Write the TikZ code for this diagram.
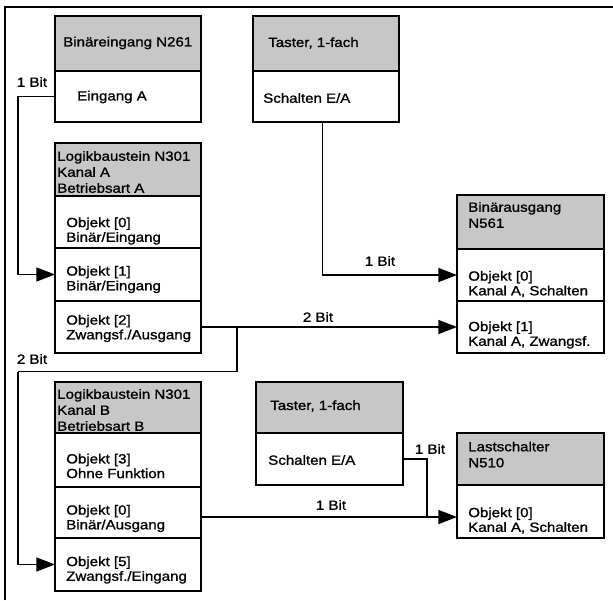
\documentclass[tikz,border=0pt]{standalone}
\usepackage{fontspec}
\setmainfont[FakeStretch=1.13,FakeBold=1.2]{Liberation Sans}
\usetikzlibrary{arrows.meta}
\definecolor{hdrgray}{gray}{0.78}
\newcommand\cellnode[6]{\node[#6, minimum width={(#4-#2)*0.75pt}, minimum height={(#5-#3)*0.75pt}] (#1) at (#2,#3) {};}
\begin{document}
\begin{tikzpicture}[x=0.75pt,y=-0.75pt,
 cell/.style={draw, line width=1.4pt, inner sep=0pt, outer sep=0pt, anchor=north west},
 hdr/.style={cell, fill=hdrgray},
 txt/.style={inner sep=0pt, anchor=west, align=left, font=\fontsize{10pt}{11pt}\selectfont},
 htxt/.style={txt, font=\fontsize{10pt}{12pt}\selectfont},
 lbl/.style={inner sep=0pt, font=\fontsize{10pt}{11pt}\selectfont},
 conn/.style={line width=1.1pt},
 arr/.style={conn, -{Triangle[length=14pt,width=10.5pt]}}]
\useasboundingbox (0,0) rectangle (613,600);
% frame
\draw[line width=1.5pt] (5,600) -- (5,6.5) -- (613,6.5);
% boxes
\cellnode{b1h}{55}{16}{201}{71}{hdr}
\cellnode{b1r}{55}{71}{201}{122}{cell}
\cellnode{b2h}{253}{16}{399}{71}{hdr}
\cellnode{b2r}{253}{71}{399}{122}{cell}
\cellnode{b3h}{55}{143}{201}{196}{hdr}
\cellnode{b3r0}{55}{196}{201}{248}{cell}
\cellnode{b3r1}{55}{248}{201}{301}{cell}
\cellnode{b3r2}{55}{301}{201}{353}{cell}
\cellnode{b4h}{457}{195}{604}{249}{hdr}
\cellnode{b4r0}{457}{249}{604}{301}{cell}
\cellnode{b4r1}{457}{301}{604}{353}{cell}
\cellnode{b5h}{55}{382}{201}{433}{hdr}
\cellnode{b5r0}{55}{433}{201}{487}{cell}
\cellnode{b5r1}{55}{487}{201}{538}{cell}
\cellnode{b5r2}{55}{538}{201}{591}{cell}
\cellnode{b6h}{256}{382}{403}{433}{hdr}
\cellnode{b6r}{256}{433}{403}{485}{cell}
\cellnode{b7h}{457}{433}{604}{485}{hdr}
\cellnode{b7r}{457}{485}{604}{538}{cell}
% texts
\node[htxt] (t1h) at (63,43) {Binäreingang N261};
\node[txt] (t1r) at (77,97) {Eingang A};
\node[htxt] (t2h) at (268,43) {Taster, 1-fach};
\node[txt] (t2r) at (263,98) {Schalten E/A};
\node[htxt] (t3h) at (57,172) {Logikbaustein N301\\Kanal A\\Betriebsart A};
\node[txt] (t3r0) at (66,231) {Objekt [0]\\Binär/Eingang};
\node[txt] (t3r1) at (66,279.5) {Objekt [1]\\Binär/Eingang};
\node[txt] (t3r2) at (66,328.5) {Objekt [2]\\Zwangsf./Ausgang};
\node[htxt] (t4h) at (468,215) {Binärausgang\\N561};
\node[txt] (t4r0) at (468,284) {Objekt [0]\\Kanal A, Schalten};
\node[txt] (t4r1) at (468,335) {Objekt [1]\\Kanal A, Zwangsf.};
\node[htxt] (t5h) at (57,410) {Logikbaustein N301\\Kanal B\\Betriebsart B};
\node[txt] (t5r0) at (66,466) {Objekt [3]\\Ohne Funktion};
\node[txt] (t5r1) at (66,518.5) {Objekt [0]\\Binär/Ausgang};
\node[txt] (t5r2) at (66,570) {Objekt [5]\\Zwangsf./Eingang};
\node[htxt] (t6h) at (270,406) {Taster, 1-fach};
\node[txt] (t6r) at (268,460) {Schalten E/A};
\node[htxt] (t7h) at (468,454.5) {Lastschalter\\N510};
\node[txt] (t7r) at (468,520.5) {Objekt [0]\\Kanal A, Schalten};
% connector coordinates
\coordinate (k1) at (18,96.5);
\coordinate (j1) at (237,327);
\coordinate (k2) at (18,371.7);
\coordinate (j2) at (427,517);
% connectors
\draw[arr] (b1r.west) -- (k1) |- (b3r1.west);
\draw[arr] ([xshift=-2.5pt]b2r.south) |- (b4r0.west);
\draw[arr] (b3r2.east) -- (b4r1.west);
\draw[conn] (j1) |- (k2);
\draw[arr] (k2) |- (b5r2.west);
\draw[arr] (b5r1.east |- j2) -- (b7r.west |- j2);
\draw[conn] (b6r.east) -| (j2);
% labels
\node[lbl] (l1) at (32,82) {1 Bit};
\node[lbl] (l2) at (380,261) {1 Bit};
\node[lbl] (l3) at (318,317) {2 Bit};
\node[lbl] (l4) at (32,359) {2 Bit};
\node[lbl] (l5) at (331,505) {1 Bit};
\node[lbl] (l6) at (430,449) {1 Bit};
\end{tikzpicture}
\end{document}
